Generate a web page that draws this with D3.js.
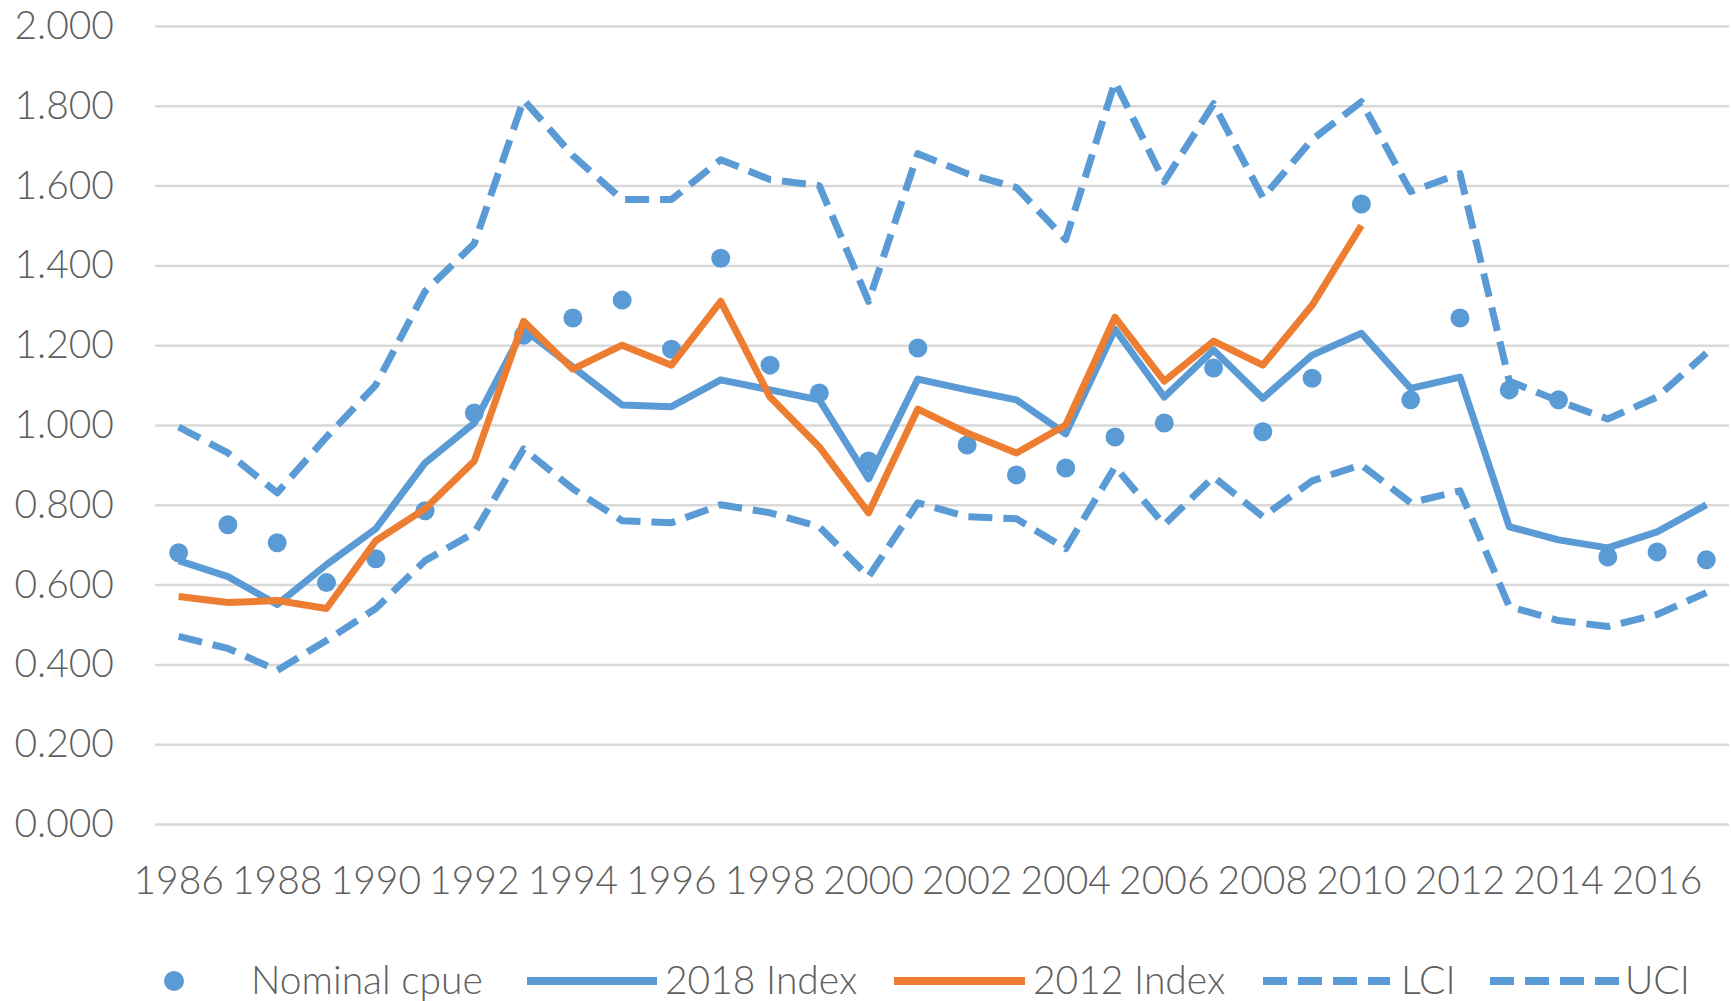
<!DOCTYPE html>
<html>
<head>
<meta charset="utf-8">
<script src="https://cdn.jsdelivr.net/npm/d3@7"></script>
<style>
  html, body { margin: 0; padding: 0; background: #fff; }
  svg { display: block; }
  text { font-family: Lato, "Open Sans", sans-serif; fill: #5f5f5f; font-weight: 300; }
</style>
</head>
<body>
<svg id="chart" width="1731" height="1001"></svg>
<script>
// ---- data ----
const years = [1986,1987,1988,1989,1990,1991,1992,1993,1994,1995,1996,1997,1998,1999,2000,2001,
               2002,2003,2004,2005,2006,2007,2008,2009,2010,2011,2012,2013,2014,2015,2016,2017];

const nominalCpue = [0.680,0.750,0.705,0.605,0.665,0.785,1.030,1.225,1.268,1.313,1.190,1.418,1.150,1.080,0.910,1.193,
                     0.950,0.875,0.892,0.970,1.005,1.143,0.983,1.117,1.554,1.063,1.268,1.088,1.063,0.669,0.682,0.662];

const index2018 = [0.660,0.620,0.550,0.650,0.740,0.905,1.005,1.240,1.145,1.050,1.046,1.113,1.088,1.063,0.865,1.115,
                   1.088,1.063,0.978,1.240,1.070,1.188,1.067,1.175,1.230,1.092,1.120,0.745,0.712,0.692,0.732,0.800];

// 2012 Index runs 1986-2010
const index2012 = [0.570,0.555,0.560,0.540,0.710,0.790,0.910,1.260,1.140,1.200,1.150,1.310,1.070,0.945,0.780,1.040,
                   0.980,0.930,1.000,1.270,1.110,1.210,1.150,1.300,1.500];

const lci = [0.470,0.440,0.385,0.460,0.540,0.660,0.730,0.940,0.840,0.760,0.755,0.800,0.780,0.745,0.620,0.805,
             0.770,0.765,0.690,0.895,0.750,0.870,0.770,0.860,0.900,0.805,0.835,0.545,0.510,0.495,0.525,0.580];

const uci = [0.995,0.930,0.830,0.970,1.100,1.335,1.455,1.815,1.675,1.565,1.565,1.665,1.615,1.600,1.310,1.680,
             1.630,1.595,1.465,1.860,1.610,1.805,1.570,1.715,1.810,1.585,1.630,1.110,1.060,1.015,1.070,1.180];

const yTickValues = [0,0.2,0.4,0.6,0.8,1.0,1.2,1.4,1.6,1.8,2.0];
const xTickLabels = [1986,1988,1990,1992,1994,1996,1998,2000,2002,2004,2006,2008,2010,2012,2014,2016];

const legendLabels = ["Nominal cpue","2018 Index","2012 Index","LCI","UCI"];

// ---- styles ----
const BLUE = "#5B9BD5", ORANGE = "#ED7D31", GRID = "#D9D9D9";
const DASH = "24,11";
const FS = 39;

const svg = d3.select("#chart");

const x = d3.scaleBand().domain(years).range([154, 1731]).padding(0);
const y = d3.scaleLinear().domain([0, 2]).range([824, 26]);
const cx = d => x(d) + x.bandwidth() / 2;

// gridlines + y labels via axis
const yAxis = d3.axisLeft(y).tickValues(yTickValues).tickFormat(d3.format(".3f"))
  .tickSize(-(1729 - 155)).tickPadding(41);
const gy = svg.append("g").attr("transform", "translate(155,0)").call(yAxis);
gy.select(".domain").remove();
gy.selectAll(".tick line").attr("stroke", GRID).attr("stroke-width", 2.5);
gy.selectAll(".tick text").attr("font-size", FS).attr("fill", "#5f5f5f")
  .style("font-family", "Lato, sans-serif").style("font-weight", 300);

// x labels via axis
const xAxis = d3.axisBottom(x).tickValues(xTickLabels).tickSize(0).tickPadding(0);
const gx = svg.append("g").attr("transform", "translate(0,860)").call(xAxis);
gx.select(".domain").remove();
gx.selectAll(".tick text").attr("font-size", FS).attr("fill", "#5f5f5f")
  .attr("dy", 0).attr("y", 34).style("font-family", "Lato, sans-serif").style("font-weight", 300);

// markers (drawn first, beneath lines)
svg.append("g").selectAll("circle").data(years.map((yr, i) => [yr, nominalCpue[i]]))
  .join("circle").attr("cx", d => cx(d[0])).attr("cy", d => y(d[1])).attr("r", 9.5)
  .attr("fill", BLUE);

const line = d3.line().x(d => cx(d[0])).y(d => y(d[1]));
function drawLine(vals, color, dash) {
  const pts = vals.map((v, i) => [years[i], v]);
  const p = svg.append("path").datum(pts).attr("d", line)
    .attr("fill", "none").attr("stroke", color).attr("stroke-width", 7)
    .attr("stroke-linejoin", "round").attr("stroke-linecap", "butt");
  if (dash) p.attr("stroke-dasharray", dash);
}
drawLine(index2018, BLUE, null);
drawLine(index2012, ORANGE, null);
drawLine(lci, BLUE, DASH);
drawLine(uci, BLUE, DASH);

// legend
const lg = svg.append("g");
const LY = 981;
lg.append("circle").attr("cx", 174).attr("cy", LY).attr("r", 10).attr("fill", BLUE);
lg.append("text").attr("x", 251).attr("y", LY + 13).attr("font-size", FS).text(legendLabels[0]);

lg.append("line").attr("x1", 527).attr("x2", 657).attr("y1", LY).attr("y2", LY)
  .attr("stroke", BLUE).attr("stroke-width", 8);
lg.append("text").attr("x", 665).attr("y", LY + 13).attr("font-size", FS).text(legendLabels[1]);

lg.append("line").attr("x1", 894).attr("x2", 1025).attr("y1", LY).attr("y2", LY)
  .attr("stroke", ORANGE).attr("stroke-width", 8);
lg.append("text").attr("x", 1033).attr("y", LY + 13).attr("font-size", FS).text(legendLabels[2]);

lg.append("line").attr("x1", 1263).attr("x2", 1390).attr("y1", LY).attr("y2", LY)
  .attr("stroke", BLUE).attr("stroke-width", 8).attr("stroke-dasharray", DASH);
lg.append("text").attr("x", 1401).attr("y", LY + 13).attr("font-size", FS).text(legendLabels[3]);

lg.append("line").attr("x1", 1490).attr("x2", 1620).attr("y1", LY).attr("y2", LY)
  .attr("stroke", BLUE).attr("stroke-width", 8).attr("stroke-dasharray", DASH);
lg.append("text").attr("x", 1625).attr("y", LY + 13).attr("font-size", FS).text(legendLabels[4]);
</script>
</body>
</html>
